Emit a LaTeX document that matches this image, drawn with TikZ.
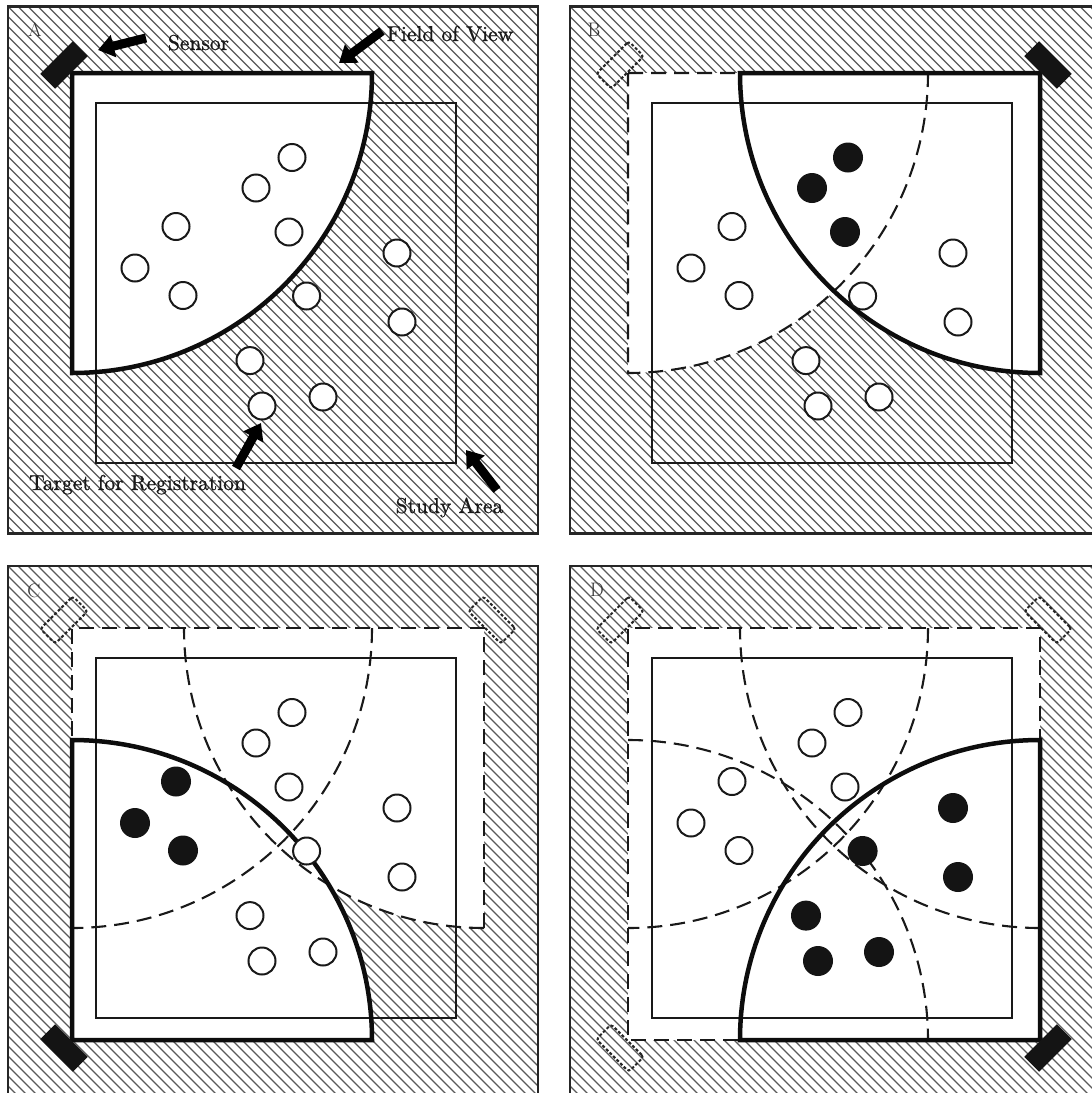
\documentclass[tikz,border=0pt]{standalone}
\usepackage{fontspec}
\usetikzlibrary{arrows.meta}
\newfontfamily\lblfont[FakeBold=0.8]{lmroman10-regular.otf}

\tikzset{
  hatch/.style={line width=1.3pt, draw=black!65},
  frame/.style={line width=2.4pt, draw=black!85},
  study/.style={line width=2.4pt, draw=black!90},
  fov/.style={line width=4.5pt, draw=black!95, line join=miter},
  prevfov/.style={line width=2.1pt, draw=black!90, dash pattern=on 15pt off 8pt},
  clear/.style={fill=white},
  tgt/.style={circle, draw=black!90, fill=white, line width=2pt, minimum size=27pt, inner sep=0pt},
  hit/.style={circle, fill=black!92, minimum size=30pt, inner sep=0pt},
  sensor/.style={rectangle, fill=black!92, minimum width=46pt, minimum height=21pt, inner sep=0pt},
  oldsensor/.style={rectangle, draw=black!85, line width=2pt, dash pattern=on 3pt off 2pt,
    rounded corners=3pt, minimum width=46pt, minimum height=21pt, inner sep=0pt},
  lbl/.style={font=\lblfont\fontsize{21.5}{26}\selectfont, text=black!90, inner sep=0pt, anchor=base},
  tag/.style={font=\fontsize{19.5}{23}\selectfont, text=black!80, inner sep=0pt},
  callout/.style={draw=black, line width=9pt, -{Triangle[length=16pt,width=22pt]}},
  t1/.style=tgt, t2/.style=tgt, t3/.style=tgt, t4/.style=tgt,
  t5/.style=tgt, t6/.style=tgt, t7/.style=tgt, t8/.style=tgt,
  t9/.style=tgt, t10/.style=tgt, t11/.style=tgt, t12/.style=tgt
}

% twelve registration targets, placed relative to the top-left sensor corner
\newcommand\placetargets[1]{%
  \node[t1]  (#1t1)  at (220,84.5)  {};
  \node[t2]  (#1t2)  at (184,115)   {};
  \node[t3]  (#1t3)  at (104,153.5) {};
  \node[t4]  (#1t4)  at (217,159)   {};
  \node[t5]  (#1t5)  at (63,195)    {};
  \node[t6]  (#1t6)  at (111,222.5) {};
  \node[t7]  (#1t7)  at (325,180)   {};
  \node[t8]  (#1t8)  at (234.6,223) {};
  \node[t9]  (#1t9)  at (330,249)   {};
  \node[t10] (#1t10) at (178,287.6) {};
  \node[t11] (#1t11) at (190,333)   {};
  \node[t12] (#1t12) at (251,324)   {};
}

% diagonal hatching of one panel
\newcommand\hatchpanel[2]{%
  \begin{scope}
    \clip (#1,#2) rectangle ++(530,527);
    \foreach \k in {-54,...,54}{\draw[hatch] ({#1+\k*10},#2) -- ++(540,540);}
  \end{scope}}

\begin{document}
\begin{tikzpicture}[x=1pt, y=1pt, yscale=-1]
\useasboundingbox (0,0) rectangle (1092,1093);
\clip (0,0) rectangle (1092,1093);

% ---------------- panel A ----------------
\hatchpanel{8}{6.5}
\begin{scope}[shift={(72,73)}]
  \fill[clear] (0,0) -- (300,0) arc[start angle=0, end angle=90, radius=300] -- cycle;
  \draw[study] (24,30) rectangle (384,390);
  \draw[fov] (0,0) -- (300,0) arc[start angle=0, end angle=90, radius=300] -- cycle;
  \placetargets{A}
  \node[sensor, rotate=45] (Asens) at (-8,-8) {};
\end{scope}
\draw[frame] (8,6.5) rectangle (538,533.5);

% ---------------- panel B ----------------
\hatchpanel{570}{6.5}
\begin{scope}[shift={(628,73)}, t1/.style=hit, t2/.style=hit, t4/.style=hit]
  \fill[clear] (0,0) -- (300,0) arc[start angle=0, end angle=90, radius=300] -- cycle;
  \fill[clear] (412,0) -- (412,300) arc[start angle=90, end angle=180, radius=300] -- cycle;
  \draw[study] (24,30) rectangle (384,390);
  \draw[prevfov] (0,0) -- (300,0) arc[start angle=0, end angle=90, radius=300] -- cycle;
  \draw[fov] (412,0) -- (412,300) arc[start angle=90, end angle=180, radius=300] -- cycle;
  \placetargets{B}
  \node[oldsensor, rotate=45] (Bold1) at (-8,-8) {};
  \node[sensor, rotate=-45] (Bsens) at (420,-8) {};
\end{scope}
\draw[frame] (570,6.5) rectangle (1100,533.5);

% ---------------- panel C ----------------
\hatchpanel{8}{566}
\begin{scope}[shift={(72,628)}, t3/.style=hit, t5/.style=hit, t6/.style=hit]
  \fill[clear] (0,0) -- (300,0) arc[start angle=0, end angle=90, radius=300] -- cycle;
  \fill[clear] (412,0) -- (412,300) arc[start angle=90, end angle=180, radius=300] -- cycle;
  \fill[clear] (0,412) -- (0,112) arc[start angle=-90, end angle=0, radius=300] -- cycle;
  \draw[study] (24,30) rectangle (384,390);
  \draw[prevfov] (412,300) -- (412,0) -- (0,0) -- (0,300);
  \draw[prevfov] (300,0) arc[start angle=0, end angle=90, radius=300];
  \draw[prevfov] (412,300) arc[start angle=90, end angle=180, radius=300];
  \draw[fov] (0,412) -- (0,112) arc[start angle=-90, end angle=0, radius=300] -- cycle;
  \placetargets{C}
  \node[oldsensor, rotate=45] (Cold1) at (-8,-8) {};
  \node[oldsensor, rotate=-45] (Cold2) at (420,-8) {};
  \node[sensor, rotate=-45] (Csens) at (-8,420) {};
\end{scope}
\draw[frame] (8,566) rectangle (538,1096);

% ---------------- panel D ----------------
\hatchpanel{570}{566}
\begin{scope}[shift={(628,628)}, t7/.style=hit, t8/.style=hit, t9/.style=hit,
    t10/.style=hit, t11/.style=hit, t12/.style=hit]
  \fill[clear] (0,0) -- (300,0) arc[start angle=0, end angle=90, radius=300] -- cycle;
  \fill[clear] (412,0) -- (412,300) arc[start angle=90, end angle=180, radius=300] -- cycle;
  \fill[clear] (0,412) -- (0,112) arc[start angle=-90, end angle=0, radius=300] -- cycle;
  \fill[clear] (412,412) -- (112,412) arc[start angle=180, end angle=270, radius=300] -- cycle;
  \draw[study] (24,30) rectangle (384,390);
  \draw[prevfov] (412,300) -- (412,0) -- (0,0) -- (0,412) -- (300,412);
  \draw[prevfov] (300,0) arc[start angle=0, end angle=90, radius=300];
  \draw[prevfov] (412,300) arc[start angle=90, end angle=180, radius=300];
  \draw[prevfov] (0,112) arc[start angle=-90, end angle=0, radius=300];
  \draw[fov] (412,412) -- (112,412) arc[start angle=180, end angle=270, radius=300] -- cycle;
  \placetargets{D}
  \node[oldsensor, rotate=45] (Dold1) at (-8,-8) {};
  \node[oldsensor, rotate=-45] (Dold2) at (420,-8) {};
  \node[oldsensor, rotate=-45] (Dold3) at (-8,420) {};
  \node[sensor, rotate=45] (Dsens) at (420,420) {};
\end{scope}
\draw[frame] (570,566) rectangle (1100,1096);

% ---------------- panel letters ----------------
\node[tag] (tagA) at (35,30) {A};
\node[tag] (tagB) at (594,30) {B};
\node[tag] (tagC) at (34,591) {C};
\node[tag] (tagD) at (597,590) {D};

% ---------------- labels with callout arrows ----------------
\node[lbl] (lsens) at (198.5,50) {Sensor};
\node[lbl] (lfov) at (450,41) {Field of View};
\node[lbl] (ltarget) at (137.5,490) {Target for Registration};
\node[lbl] (lstudy) at (449.5,513) {Study Area};

\coordinate (sensTail) at (146,38);   \coordinate (sensTip) at (98,50);
\coordinate (fovTail) at (382,31);    \coordinate (fovTip) at (339,63);
\coordinate (tgtTail) at (236,468);   \coordinate (tgtTip) at (261,423);
\coordinate (stTail) at (497,490);    \coordinate (stTip) at (466,450);
\draw[callout] (sensTail) -- (sensTip);
\draw[callout] (fovTail) -- (fovTip);
\draw[callout] (tgtTail) -- (tgtTip);
\draw[callout] (stTail) -- (stTip);
\end{tikzpicture}
\end{document}
